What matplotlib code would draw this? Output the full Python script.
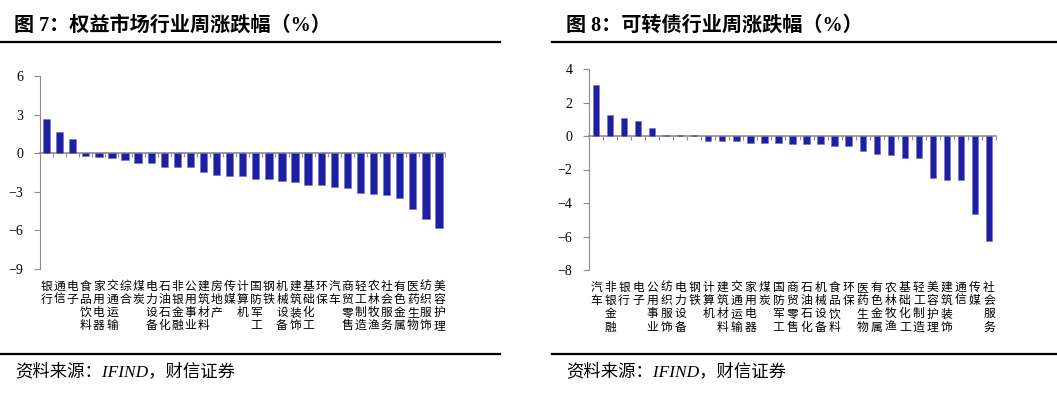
import matplotlib
matplotlib.use("Agg")
import matplotlib.pyplot as plt
import matplotlib.transforms as mtransforms
import numpy as np

plt.rcParams['font.family'] = ['Liberation Serif', 'Noto Sans CJK SC', 'DejaVu Sans']

# 图7 权益市场
equity_names = ['银行', '通信', '电子', '食品饮料', '家用电器', '交通运输', '综合', '煤炭',
                '电力设备', '石油石化', '非银金融', '公用事业', '建筑材料', '房地产', '传媒',
                '计算机', '国防军工', '钢铁', '机械设备', '建筑装饰', '基础化工', '环保', '汽车',
                '商贸零售', '轻工制造', '农林牧渔', '社会服务', '有色金属', '医药生物',
                '纺织服饰', '美容护理']
equity_chg = [2.69, 1.67, 1.08, -0.18, -0.31, -0.41, -0.51, -0.77, -0.77, -1.10, -1.10,
              -1.10, -1.46, -1.67, -1.79, -1.79, -2.00, -2.00, -2.13, -2.26, -2.49, -2.49,
              -2.62, -2.72, -3.08, -3.18, -3.28, -3.51, -4.31, -5.15, -5.85]

# 图8 可转债
cb_names = ['汽车', '非银金融', '银行', '电子', '公用事业', '纺织服饰', '电力设备', '钢铁',
            '计算机', '建筑材料', '交通运输', '家用电器', '煤炭', '国防军工', '商贸零售',
            '石油石化', '机械设备', '食品饮料', '环保', '医药生物', '有色金属', '农林牧渔',
            '基础化工', '轻工制造', '美容护理', '建筑装饰', '通信', '传媒', '社会服务']
cb_chg = [3.03, 1.23, 1.05, 0.87, 0.50, 0.05, 0.05, 0.05, -0.30, -0.30, -0.30, -0.40,
          -0.40, -0.40, -0.50, -0.50, -0.50, -0.62, -0.60, -0.87, -1.05, -1.15, -1.30,
          -1.30, -2.50, -2.60, -2.60, -4.65, -6.25]

BAR = '#1e1ea0'
GRAY = '#8c8c8c'
W, H = 1057, 396

fig = plt.figure(figsize=(W / 100, H / 100), dpi=100)


def px(x0, y0, x1, y1):
    return [x0 / W, 1 - y1 / H, (x1 - x0) / W, (y1 - y0) / H]


def draw(ax, names, vals, ylim, step, bw):
    n = len(names)
    x = np.arange(n)
    ax.bar(x, vals, width=bw, color=BAR, edgecolor='#6f6fc4', linewidth=0.4, zorder=3)
    ax.set_xlim(-0.5, n - 0.5)
    ax.set_ylim(*ylim)
    ax.set_yticks(np.arange(ylim[0], ylim[1] + 0.1, step))
    ax.spines['top'].set_visible(False)
    ax.spines['right'].set_visible(False)
    ax.spines['left'].set_color(GRAY)
    ax.spines['bottom'].set_position(('data', 0))
    ax.spines['bottom'].set_color(GRAY)
    ax.spines['bottom'].set_linewidth(1.2)
    ax.set_xticks(np.arange(n + 1) - 0.5)
    ax.set_xticklabels([])
    ax.tick_params(axis='x', length=3, color=GRAY, direction='out')
    ax.tick_params(axis='y', length=4, color=GRAY, labelsize=10, pad=8)
    trans = mtransforms.blended_transform_factory(ax.transData, ax.transAxes)
    for i, s in enumerate(names):
        ax.text(i, -0.055, '\n'.join(s), transform=trans, ha='center', va='top',
                fontsize=8.5, linespacing=1.02, family=['Noto Sans CJK SC'])


ax1 = fig.add_axes(px(40, 76, 445.5, 269))
draw(ax1, equity_names, equity_chg, (-9, 6), 3, 0.56)
ax2 = fig.add_axes(px(589, 69, 996, 270))
draw(ax2, cb_names, cb_chg, (-8, 4), 2, 0.45)

# titles, rules, source
tfam = ['Liberation Serif', 'Noto Sans CJK SC']
fig.text(14 / W, 1 - 26 / H, '图 7：权益市场行业周涨跌幅（%）', fontsize=14.5, fontweight='bold',
         family=tfam, va='center')
fig.text(566 / W, 1 - 26 / H, '图 8：可转债行业周涨跌幅（%）', fontsize=14.5, fontweight='bold',
         family=tfam, va='center')
for x0, x1 in [(0, 500), (552, 1057)]:
    fig.add_artist(plt.Line2D([x0 / W, x1 / W], [1 - 42 / H] * 2, color='black', lw=1.6))
    fig.add_artist(plt.Line2D([x0 / W, x1 / W], [1 - 354 / H] * 2, color='black', lw=1.6))
fig.text(15 / W, 1 - 372 / H, '资料来源：IFIND，财信证券', fontsize=12.5, style='italic',
         family=tfam, va='center')
fig.text(566 / W, 1 - 372 / H, '资料来源：IFIND，财信证券', fontsize=12.5, style='italic',
         family=tfam, va='center')

fig.savefig('out.png', dpi=100)
